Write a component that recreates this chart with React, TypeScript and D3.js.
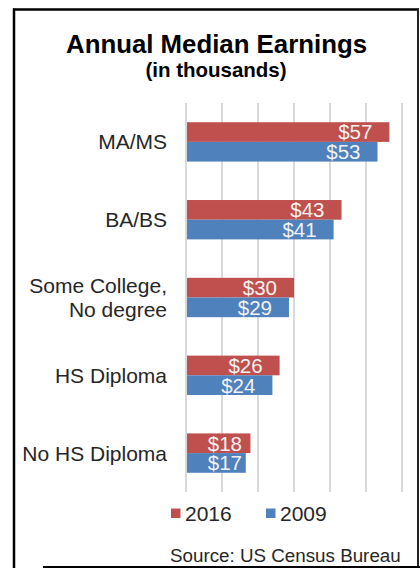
import React from 'react';
import * as d3 from 'd3';

const categories = ['MA/MS', 'BA/BS', 'Some College,\nNo degree', 'HS Diploma', 'No HS Diploma'];
const seriesNames = ['2016', '2009'];
const values2016 = [56.5, 43.2, 30, 26, 17.9];
const values2009 = [53.2, 41, 28.6, 24, 16.6];
const xTicks = [0, 10, 20, 30, 40, 50, 60];
const seriesColors = ['#C0504D', '#4F81BD'];
const titleText = 'Annual Median Earnings';
const subtitleText = '(in thousands)';
const sourceText = 'Source: US Census Bureau';

export default function App() {
  const W = 420;
  const H = 568;
  const font = "'Liberation Sans', Arial, sans-serif";
  const x = d3.scaleLinear().domain([0, 60]).range([186, 402]);
  const y = d3.scaleBand<string>().domain(categories).range([103, 492]).paddingInner(0.494).paddingOuter(0.247);
  const ys = d3.scaleBand<string>().domain(seriesNames).range([0, y.bandwidth()]);
  const seriesValues = [values2016, values2009];
  const fmt = (v: number) => `$${Math.round(v)}`;

  return (
    <svg width={W} height={H} style={{ position: 'absolute', left: 0, top: 0, background: '#fff' }} fontFamily={font}>
      <rect x={0} y={0} width={W} height={H} fill="#fff" />
      {/* gridlines */}
      {xTicks.map((t) => (
        <line key={t} x1={x(t)} x2={x(t)} y1={103} y2={492} stroke="#d9d9d9" strokeWidth={2} />
      ))}
      {/* bars */}
      {seriesNames.map((s, si) => (
        <g key={s}>
          {categories.map((c, ci) => {
            const v = seriesValues[si][ci];
            const by = (y(c) as number) + (ys(s) as number);
            const bh = ys.bandwidth();
            return (
              <g key={c}>
                <rect x={x(0) + 1} y={by} width={x(v) - x(0) - 1} height={bh} fill={seriesColors[si]} />
                <text
                  x={Math.max(x(v) - 17, x(0) + 56)}
                  y={by + bh / 2}
                  dy="0.36em"
                  textAnchor="end"
                  fontSize={20.5}
                  fill="#F2F2F2"
                >
                  {fmt(v)}
                </text>
              </g>
            );
          })}
        </g>
      ))}
      {/* category labels */}
      {categories.map((c) => {
        const lines = c.split('\n');
        const cy = (y(c) as number) + y.bandwidth() / 2;
        const lh = 24;
        return (
          <text key={c} x={167} y={cy - ((lines.length - 1) * lh) / 2} textAnchor="end" fontSize={21} fill="#262626">
            {lines.map((l, i) => (
              <tspan key={i} x={167} dy={i === 0 ? '0.36em' : lh}>
                {l}
              </tspan>
            ))}
          </text>
        );
      })}
      {/* title */}
      <text x={216.5} y={53} textAnchor="middle" fontSize={25.8} fontWeight="bold" fill="#000">
        {titleText}
      </text>
      <text x={216} y={77} textAnchor="middle" fontSize={20.5} fontWeight="bold" fill="#000">
        {subtitleText}
      </text>
      {/* legend */}
      {seriesNames.map((s, i) => {
        const lx = [171, 266][i];
        return (
          <g key={s}>
            <rect x={lx} y={508.5} width={9.5} height={9.5} fill={seriesColors[i]} />
            <text x={lx + 14} y={521} fontSize={21} fill="#262626">
              {s}
            </text>
          </g>
        );
      })}
      {/* source */}
      <text x={170} y={562} fontSize={18.8} fill="#262626">
        {sourceText}
      </text>
      {/* frame */}
      <line x1={14} x2={14} y1={8.5} y2={H} stroke="#000" strokeWidth={2.5} />
      <line x1={13} x2={419} y1={9.5} y2={9.5} stroke="#000" strokeWidth={2.5} />
      <line x1={418} x2={418} y1={8.5} y2={H} stroke="#222" strokeWidth={2} />
      <line x1={43} x2={W} y1={567} y2={567} stroke="#000" strokeWidth={2} />
    </svg>
  );
}
